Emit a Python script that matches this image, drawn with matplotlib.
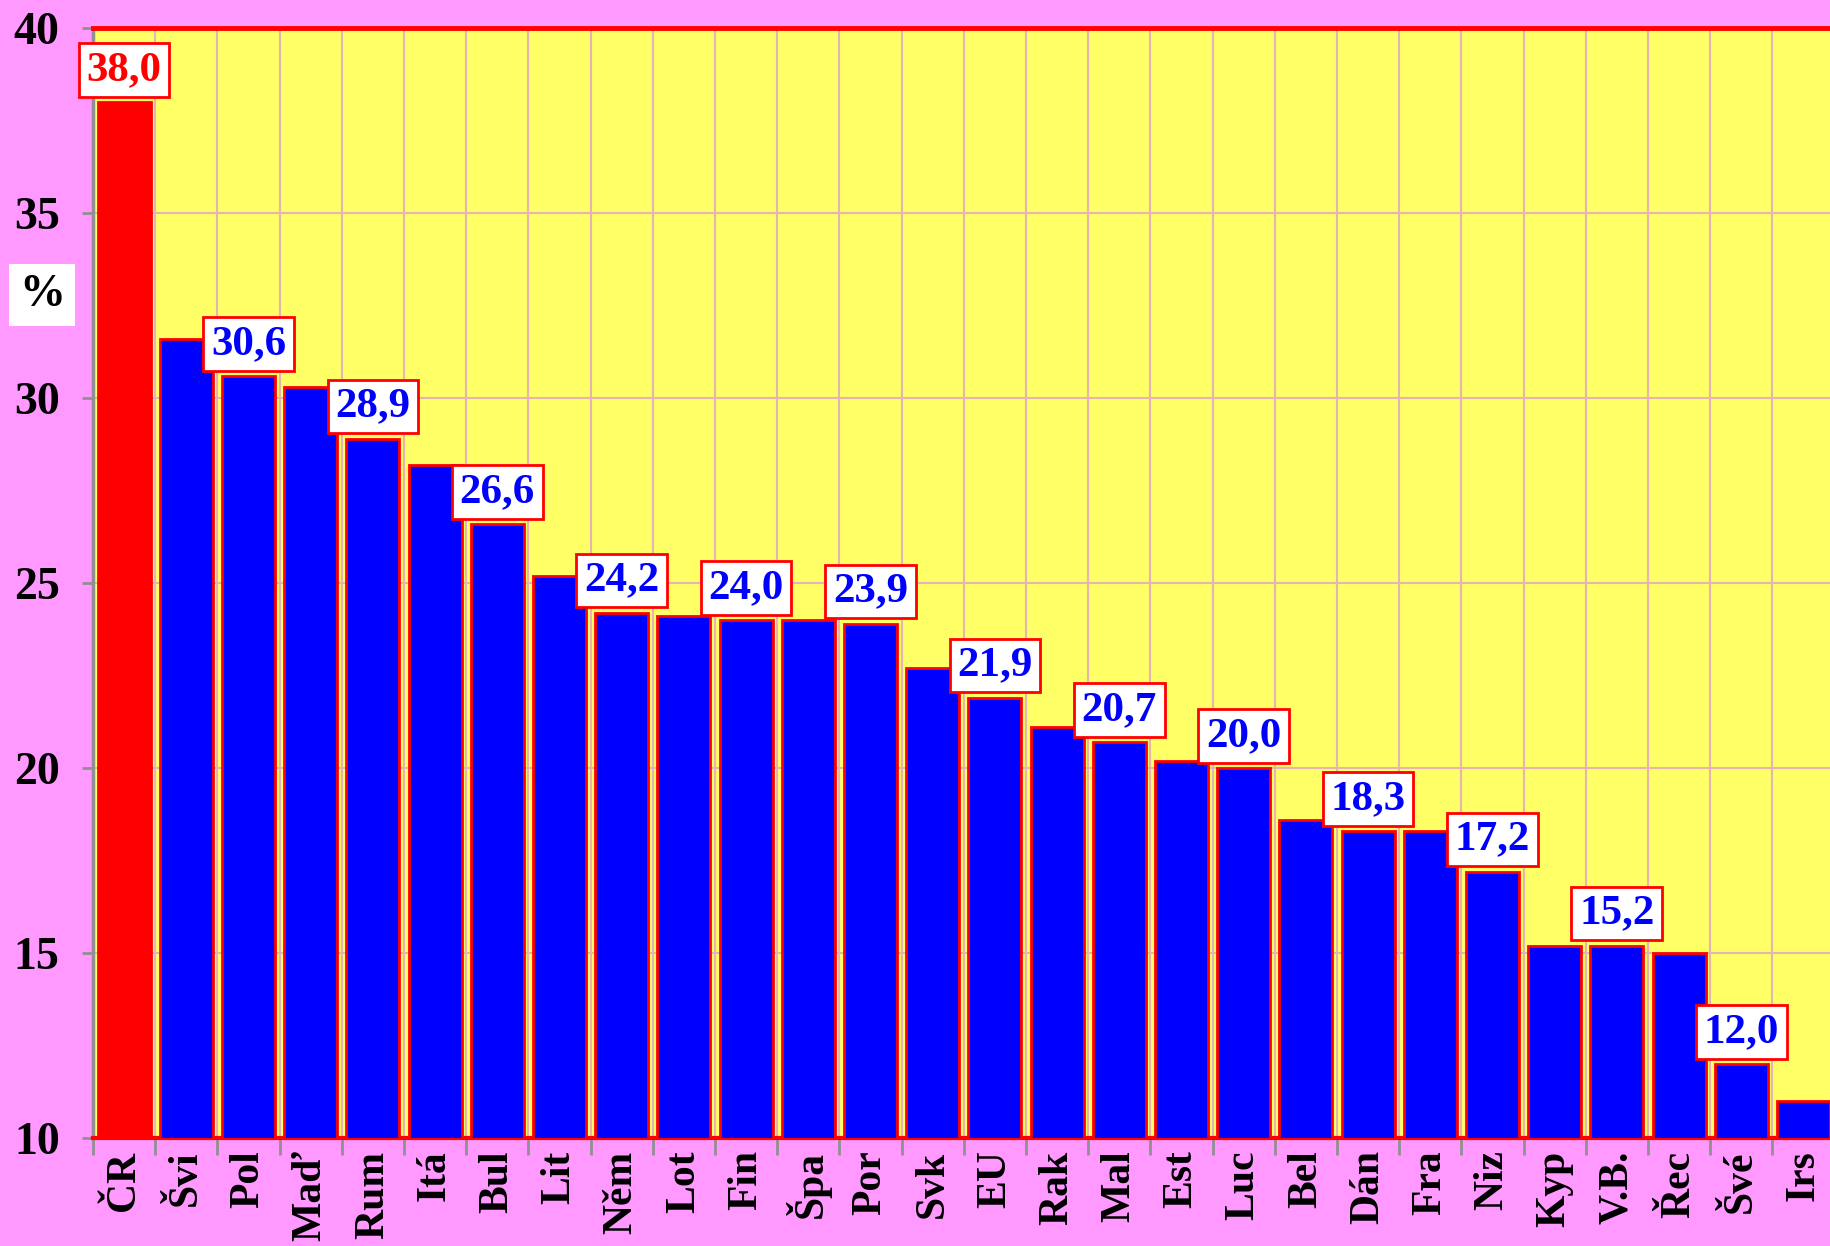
import matplotlib
matplotlib.use("Agg")
import matplotlib.pyplot as plt
from matplotlib.ticker import FixedLocator

categories = ["ČR", "Švi", "Pol", "Maď", "Rum", "Itá", "Bul", "Lit", "Něm", "Lot",
              "Fin", "Špa", "Por", "Svk", "EU", "Rak", "Mal", "Est", "Luc", "Bel",
              "Dán", "Fra", "Niz", "Kyp", "V.B.", "Řec", "Švé", "Irs"]
values = [38.0, 31.6, 30.6, 30.3, 28.9, 28.2, 26.6, 25.2, 24.2, 24.1,
          24.0, 24.0, 23.9, 22.7, 21.9, 21.1, 20.7, 20.2, 20.0, 18.6,
          18.3, 18.3, 17.2, 15.2, 15.2, 15.0, 12.0, 11.0]
bar_colors = ["#FF0000"] + ["#0000FF"] * (len(values) - 1)
label_every = 2
y_ticks = [10, 15, 20, 25, 30, 35, 40]

plt.rcParams['font.family'] = ['Liberation Serif', 'DejaVu Serif']
plt.rcParams['font.weight'] = 'bold'

fig = plt.figure(figsize=(18.3, 12.46), dpi=100, facecolor="#FF99FF")
W, H = 1830, 1246
left_px, top_px, bottom_px = 93, 28, 1138
cat_w = 62.2
ax = fig.add_axes([left_px / W, 1 - bottom_px / H, len(values) * cat_w / W, (bottom_px - top_px) / H])
ax.set_facecolor("#FFFF66")

x = list(range(len(values)))
ax.bar(x, values, width=0.85, color=bar_colors, edgecolor="#FF0000", linewidth=2, zorder=3, bottom=0)

ax.set_xlim(-0.5, len(values) - 0.5)
ax.set_ylim(10, 40)

ax.set_yticks(y_ticks)
ax.set_yticklabels([str(t) for t in y_ticks], fontsize=33, fontweight='bold')
ax.set_xticks(x)
ax.set_xticklabels(categories, rotation=90, fontsize=30, fontweight='bold')
ax.xaxis.set_minor_locator(FixedLocator([i - 0.5 for i in range(len(values) + 1)]))
ax.tick_params(axis='x', which='major', length=0, pad=9)
ax.tick_params(axis='x', which='minor', length=12, width=2, color="#909090")
ax.tick_params(axis='y', which='major', length=8, width=2, color="#909090", pad=16)

ax.grid(True, axis='y', which='major', color="#E6B4B4", linewidth=1.5, zorder=0)
ax.grid(True, axis='x', which='minor', color="#E6B4B4", linewidth=1.5, zorder=0)
ax.set_axisbelow(True)

ax.spines['right'].set_visible(False)
ax.spines['top'].set_color("#FF0000")
ax.spines['top'].set_linewidth(3.5)
ax.spines['bottom'].set_color("#FF0000")
ax.spines['bottom'].set_linewidth(3)
ax.spines['left'].set_color("#909090")
ax.spines['left'].set_linewidth(2.5)

for i in range(0, len(values), label_every):
    v = values[i]
    col = "#FF0000" if i == 0 else "#0000FF"
    ax.annotate(f"{v:.1f}".replace(".", ","), xy=(i, v), xytext=(0, 13),
                textcoords='offset pixels', ha='center', va='bottom',
                fontsize=31, fontweight='bold', color=col, zorder=5,
                bbox=dict(boxstyle='square,pad=0.18', facecolor='white', edgecolor='#FF0000', linewidth=2))

fig.text(42 / W, 1 - 295 / H, "%", fontsize=33, fontweight='bold', ha='center', va='center',
         bbox=dict(boxstyle='square,pad=0.22', facecolor='white', edgecolor='none'))

fig.savefig("out.png", dpi=100, facecolor=fig.get_facecolor())
